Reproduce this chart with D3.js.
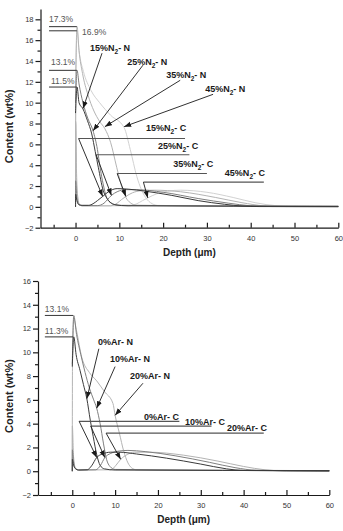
<!DOCTYPE html>
<html><head><meta charset="utf-8">
<script src="https://cdn.jsdelivr.net/npm/d3@7"></script>
<style>body{margin:0;background:#fff}svg{display:block}text{font-family:"Liberation Sans",Arial,sans-serif}</style>
</head><body><svg id="c" width="343" height="531"></svg>
<script>
// ---------- DATA (depth in µm, content in wt%) ----------
const xTicksMajor = [0, 10, 20, 30, 40, 50, 60];
const xTicksMinor = [-5, 5, 15, 25, 35, 45, 55];
const yTicksTop = [-2, 0, 2, 4, 6, 8, 10, 12, 14, 16, 18];
const yMinorTop = [-1, 1, 3, 5, 7, 9, 11, 13, 15, 17];
const yTicksBot = [-2, 0, 2, 4, 6, 8, 10, 12, 14, 16];
const yMinorBot = [-1, 1, 3, 5, 7, 9, 11, 13, 15];

// top panel: N2 content series
const topConditions = ["15%", "25%", "35%", "45%"];
const n15 = [[0,9.0],[0.35,11.5],[0.8,10.0],[1.7,9.4],[2.7,8.3],[3.7,7.0],[4.5,5.3],[5.2,3.8],[6.3,1.6],[7.2,0.8],[7.9,0.45],[9,0.2],[12,0.1],[60,0.05]];
const n25 = [[0,10],[0.35,13.1],[0.8,11.8],[1.7,10.0],[2.8,8.5],[4.0,7.3],[5.0,5.5],[5.6,3.8],[6.3,2.2],[7.1,0.9],[8,0.4],[10,0.15],[60,0.05]];
const n35 = [[0,0],[0.05,12],[0.35,17.3],[0.8,15.0],[1.6,12.8],[2.8,10.8],[4.2,9.2],[5.5,8.2],[6.7,7.5],[8.0,6.2],[9.4,3.8],[10.5,2.0],[11.5,0.9],[12.5,0.4],[14,0.15],[60,0.05]];
const n45 = [[0,0],[0.05,12],[0.35,16.9],[0.8,15.0],[1.8,13.0],[3.5,11.2],[5.5,10.0],[8,8.8],[11.1,7.6],[12.5,5.5],[14,2.9],[15,1.7],[16,0.9],[17.5,0.3],[19,0.12],[60,0.05]];
const c15 = [[0,0],[0.02,1.2],[0.3,0.6],[0.8,0.2],[1.5,0.15],[3,0.15],[4,0.3],[5,0.6],[6.2,1.0],[7.5,1.45],[9.5,1.75],[12,1.7],[16,1.5],[22,1.1],[28,0.6],[34,0.25],[38,0.08],[42,0.03],[60,0.02]];
const c25 = [[0,0],[0.02,2.5],[0.3,0.9],[0.8,0.2],[1.5,0.12],[5,0.12],[6.5,0.35],[7.3,0.7],[8.2,1.1],[9.5,1.45],[11.5,1.65],[14,1.65],[20,1.4],[28,0.8],[35,0.35],[40,0.1],[45,0.03],[60,0.02]];
const c35 = [[0,0],[0.02,8.2],[0.3,2],[0.8,0.3],[1.5,0.1],[8,0.1],[9.5,0.35],[10.5,0.7],[11.5,1.0],[13,1.35],[15,1.55],[18,1.6],[24,1.45],[32,0.9],[38,0.4],[43,0.1],[48,0.03],[60,0.02]];
const c45 = [[0,0],[0.02,8.0],[0.3,2],[0.8,0.3],[1.5,0.1],[12,0.1],[14,0.3],[15.3,0.6],[16.5,0.86],[18.5,1.25],[21,1.5],[24,1.6],[30,1.4],[36,0.9],[41,0.4],[46,0.1],[50,0.03],[60,0.02]];

// bottom panel: Ar content series
const botConditions = ["0%", "10%", "20%"];
const a0n = [[0,8.8],[0.35,11.3],[0.9,9.8],[1.8,8.5],[2.6,7.3],[3.4,6.1],[4.2,4.3],[4.9,2.9],[5.7,1.4],[6.5,0.5],[7.5,0.2],[10,0.1],[60,0.05]];
const a10n = [[0,9],[0.35,13.1],[1,11.5],[2,9.8],[3,8.3],[4,7.0],[5,6.0],[5.7,5.3],[6.5,4.0],[7.3,2.3],[8,1.0],[8.8,0.4],[10,0.15],[60,0.05]];
const a20n = [[0,0],[0.05,9],[0.35,12.8],[1,11.8],[2.2,9.6],[4,8.3],[5.7,7.6],[7.5,6.7],[9.5,5.7],[10.0,4.7],[11,3.2],[12,1.7],[13,0.7],[13.8,0.3],[15,0.12],[60,0.05]];
const a0c = [[0,0],[0.02,1.0],[0.3,0.5],[0.8,0.2],[1.5,0.1],[3.5,0.12],[4.5,0.45],[5.7,1.15],[7,1.45],[9,1.6],[11,1.6],[15,1.45],[22,1.1],[30,0.6],[36,0.2],[40,0.06],[60,0.02]];
const a10c = [[0,0],[0.02,1.8],[0.3,0.8],[0.8,0.2],[1.5,0.1],[5.5,0.12],[6.6,0.5],[7.6,1.15],[9,1.5],[11,1.7],[13,1.75],[17,1.65],[24,1.3],[32,0.75],[38,0.3],[43,0.08],[60,0.02]];
const a20c = [[0,0],[0.02,3.8],[0.3,1.2],[0.8,0.2],[1.5,0.1],[9,0.12],[10.2,0.5],[11.3,1.0],[12.8,1.4],[14.5,1.6],[18,1.6],[26,1.35],[34,0.85],[40,0.4],[45,0.12],[49,0.03],[60,0.02]];

// peak-value reference lines: [value, label, fromDepth, toDepth, labelDepth, labelContent]
const topPeaks = [[17.3,"17.3%",-6.05,0.3,-6.05,17.75],[16.9,"16.9%",-6.05,0.3,1.5,16.5],[13.1,"13.1%",-6.05,0.3,-5.6,13.6],[11.5,"11.5%",-6.05,0.3,-5.6,11.8]];
const botPeaks = [[13.1,"13.1%",-6.4,0.2,-6.4,13.4],[11.3,"11.3%",-6.4,0.2,-6.4,11.55]];

// N arrows: [startDepth, startContent, tipDepth, tipContent, labelDepth, labelContent]
const topNArrows = [[6.05,14.75,1.7,9.45,3.3,14.95],[15.4,13.6,4.0,7.3,11.8,13.6],[23.9,12.15,6.7,7.7,20.7,12.35],[31.4,10.8,11.1,7.7,29.6,11.0]];
// C annotations: [lineContent, lineFrom, lineTo, tipDepth, tipContent, labelDepth, labelContent]
const topCArrows = [[6.56,0.7,25,6.2,1.0,16.1,7.26],[5.0,4.7,26,8.2,1.1,18.85,5.54],[3.2,9.5,30,11.5,1.0,22.3,3.81],[2.37,15.5,43,16.5,0.86,34.1,2.95]];
const botNArrows = [[6.2,10.3,3.4,6.1,6.0,10.6],[10.0,8.8,5.7,5.3,8.8,9.17],[16.5,7.4,10.0,4.7,13.5,7.74]];
const botCArrows = [[4.2,1.6,25,5.7,1.15,16.75,4.3],[3.8,4.3,32.5,7.6,1.15,26.3,3.92],[3.2,7.9,44.7,11.3,1.0,36.1,3.36]];

const seriesColors = ["#3a3a3a", "#808080", "#b4b4b4", "#d2d2d2"];

// ---------- DRAWING ----------
const svg = d3.select("#c");
svg.append("defs").append("marker")
  .attr("id","ah").attr("viewBox","0 -3 7 6").attr("refX",7).attr("refY",0)
  .attr("markerWidth",7).attr("markerHeight",6).attr("markerUnits","userSpaceOnUse")
  .attr("orient","auto")
  .append("path").attr("d","M0,-2.6L7,0L0,2.6Z").attr("fill","#1a1a1a");

function drawPanel(cfg) {
  const x = d3.scaleLinear().domain([-8, 60]).range(cfg.xr);
  const y = d3.scaleLinear().domain(cfg.yd).range(cfg.yr);
  const g = svg.append("g");
  const line = d3.line().x(d => x(d[0])).y(d => y(d[1])).curve(d3.curveMonotoneX);

  // curves
  cfg.series.forEach((s, i) => {
    g.append("path").datum(s.data).attr("d", line).attr("fill","none")
      .attr("stroke", seriesColors[s.ci]).attr("stroke-width", 1);
  });

  // axes
  g.append("g").attr("transform",`translate(${x(-8)},0)`)
    .call(d3.axisLeft(y).tickValues(cfg.yTicks).tickSize(5).tickSizeOuter(0).tickPadding(2).tickFormat(d3.format("d")));
  g.append("g").attr("transform",`translate(${x(-8)},0)`)
    .call(d3.axisLeft(y).tickValues(cfg.yMinor).tickSize(3).tickSizeOuter(0).tickFormat(""))
    .select(".domain").remove();
  g.append("g").attr("transform",`translate(0,${y(cfg.yd[0])})`)
    .call(d3.axisBottom(x).tickValues(xTicksMajor).tickSize(-5).tickSizeOuter(0).tickPadding(8));
  g.append("g").attr("transform",`translate(0,${y(cfg.yd[0])})`)
    .call(d3.axisBottom(x).tickValues(xTicksMinor).tickSize(-3).tickSizeOuter(0).tickFormat(""))
    .select(".domain").remove();
  g.selectAll(".tick line, .domain").attr("stroke","#1a1a1a").attr("stroke-width",1.2);
  g.selectAll(".tick text").attr("font-size","7.5px").attr("fill","#333").attr("font-family","Liberation Sans, Arial, sans-serif");

  // axis titles
  g.append("text").attr("transform",`translate(${cfg.ytx},${(y(cfg.yd[0])+y(cfg.yd[1]))/2 + 8}) rotate(-90)`)
    .attr("text-anchor","middle").attr("dy","0.35em").attr("font-size","11px").attr("font-weight","bold").attr("fill","#222")
    .text("Content (wt%)");
  g.append("text").attr("x", x(26)).attr("y", y(cfg.yd[0]) + 28).attr("text-anchor","middle")
    .attr("font-size","10px").attr("font-weight","bold").attr("fill","#222").text("Depth (μm)");

  // peak reference lines
  cfg.peaks.forEach(p => {
    g.append("line").attr("x1",x(p[2])).attr("x2",x(p[3])).attr("y1",y(p[0])).attr("y2",y(p[0]))
      .attr("stroke","#444").attr("stroke-width",1.1);
    g.append("text").attr("x",x(p[4])).attr("y",y(p[5])).attr("font-size","8.5px").attr("fill","#555").text(p[1]);
  });

  function label(lx, ly, cond, el) {
    const tx = g.append("text").attr("x",x(lx)).attr("y",y(ly)).attr("font-size","9px").attr("font-weight","bold").attr("fill","#1a1a1a");
    if (cfg.gas === "N2") {
      tx.append("tspan").text(cond + "N");
      tx.append("tspan").attr("dy",2.5).attr("font-size","6.5px").text("2");
      tx.append("tspan").attr("dy",-2.5).text("- " + el);
    } else {
      tx.text(cond + "Ar- " + el);
    }
  }
  // N arrows
  cfg.nArrows.forEach((a, i) => {
    g.append("line").attr("x1",x(a[0])).attr("y1",y(a[1])).attr("x2",x(a[2])).attr("y2",y(a[3]))
      .attr("stroke","#1a1a1a").attr("stroke-width",0.9).attr("marker-end","url(#ah)");
    label(a[4], a[5], cfg.conds[i], "N");
  });
  // C annotations
  cfg.cArrows.forEach((a, i) => {
    g.append("line").attr("x1",x(a[1])).attr("x2",x(a[2])).attr("y1",y(a[0])).attr("y2",y(a[0]))
      .attr("stroke","#555").attr("stroke-width",1.2);
    g.append("line").attr("x1",x(a[1])).attr("y1",y(a[0])).attr("x2",x(a[3])).attr("y2",y(a[4]))
      .attr("stroke","#1a1a1a").attr("stroke-width",0.9).attr("marker-end","url(#ah)");
    label(a[5], a[6], cfg.conds[i], "C");
  });
}

drawPanel({
  xr: [40.5, 338.3], yd: [-2, 19], yr: [227.7, 8.9],
  yTicks: yTicksTop, yMinor: yMinorTop, ytx: 9,
  series: [
    {data:n45,ci:3},{data:c45,ci:3},{data:n35,ci:2},{data:c35,ci:2},
    {data:n25,ci:1},{data:c25,ci:1},{data:n15,ci:0},{data:c15,ci:0}],
  peaks: topPeaks, nArrows: topNArrows, cArrows: topCArrows, conds: topConditions, gas: "N2"
});
drawPanel({
  xr: [38.0, 329.3], yd: [-2, 16], yr: [495, 281],
  yTicks: yTicksBot, yMinor: yMinorBot, ytx: 9,
  series: [
    {data:a20n,ci:2},{data:a20c,ci:2},{data:a10n,ci:1},{data:a10c,ci:1},{data:a0n,ci:0},{data:a0c,ci:0}],
  peaks: botPeaks, nArrows: botNArrows, cArrows: botCArrows, conds: botConditions, gas: "Ar"
});
</script></body></html>
